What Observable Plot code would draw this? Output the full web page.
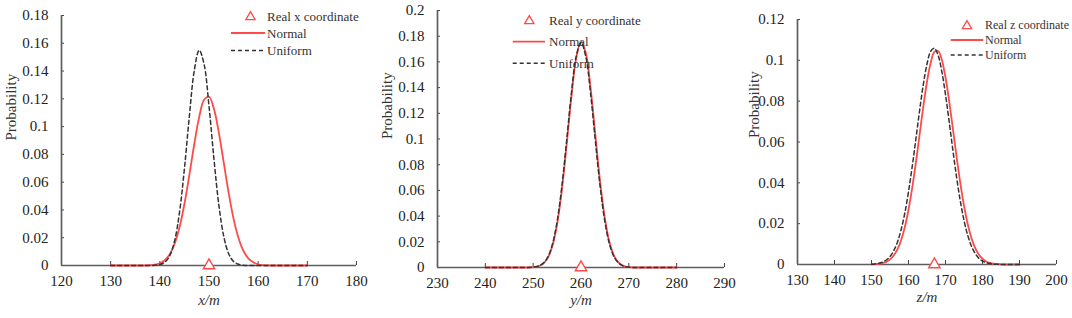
<!DOCTYPE html>
<html>
<head>
<meta charset="utf-8">
<script src="https://cdn.jsdelivr.net/npm/d3@7"></script>
<script src="https://cdn.jsdelivr.net/npm/@observablehq/plot@0.6"></script>
<style>
  body { margin: 0; background: #fff; }
  #wrap { position: relative; width: 1072px; height: 318px; overflow: hidden; background: #fff; }
  #wrap svg { position: absolute; top: 0; overflow: visible; }
</style>
</head>
<body>
<div id="wrap"></div>
<script>
// ---------- Data ----------
// Panel 1: x coordinate
const xPos = [130,131,132,133,134,135,136,137,138,139,140,141,142,143,144,145,146,147,148,149,150,151,152,153,154,155,156,157,158,159,160,161,162,163,164,165,166,167,168,169,170];
const xNormal = [0,0,0,0,0,0,0,0,0.0002,0.0006,0.0016,0.0038,0.0080,0.0155,0.0275,0.0443,0.0651,0.0873,0.1068,0.1193,0.1215,0.1129,0.0957,0.0740,0.0522,0.0336,0.0198,0.0106,0.0052,0.0023,0.0009,0.0003,0.0001,0,0,0,0,0,0,0,0];
const xUniform = [0,0,0,0,0,0,0,0,0,0.0002,0.0007,0.0023,0.0070,0.0177,0.0382,0.0696,0.1073,0.1402,0.1550,0.1449,0.1148,0.0769,0.0437,0.0210,0.0085,0.0029,0.0009,0.0002,0,0,0,0,0,0,0,0,0,0,0,0,0];
const xReal = 150;
const xTicksX = [120,130,140,150,160,170,180];
const xTicksY = [0,0.02,0.04,0.06,0.08,0.1,0.12,0.14,0.16,0.18];

// Panel 2: y coordinate
const yPos = [240,241,242,243,244,245,246,247,248,249,250,251,252,253,254,255,256,257,258,259,260,261,262,263,264,265,266,267,268,269,270,271,272,273,274,275,276,277,278,279,280];
const yNormal = [0,0,0,0,0,0,0,0,0,0,0.0003,0.0009,0.0027,0.0071,0.0165,0.0336,0.0604,0.0954,0.1329,0.1629,0.1759,0.1671,0.1399,0.1030,0.0668,0.0381,0.0191,0.0085,0.0033,0.0011,0.0003,0,0,0,0,0,0,0,0,0,0];
const yUniform = [0,0,0,0,0,0,0,0,0,0,0.0003,0.0010,0.0030,0.0077,0.0177,0.0356,0.0631,0.0987,0.1356,0.1642,0.1750,0.1642,0.1356,0.0987,0.0631,0.0356,0.0177,0.0077,0.0030,0.0010,0.0003,0,0,0,0,0,0,0,0,0,0];
const yReal = 260;
const yTicksX = [230,240,250,260,270,280,290];
const yTicksY = [0,0.02,0.04,0.06,0.08,0.1,0.12,0.14,0.16,0.18,0.2];

// Panel 3: z coordinate
const zPos = [150,151,152,153,154,155,156,157,158,159,160,161,162,163,164,165,166,167,168,169,170,171,172,173,174,175,176,177,178,179,180,181,182,183,184,185,186,187,188,189,190];
const zNormal = [0.0001,0.0002,0.0003,0.0007,0.0013,0.0025,0.0044,0.0074,0.0119,0.0182,0.0268,0.0375,0.0500,0.0637,0.0773,0.0895,0.0988,0.1041,0.1046,0.1003,0.0916,0.0799,0.0664,0.0527,0.0399,0.0288,0.0198,0.0130,0.0081,0.0049,0.0028,0.0015,0.0008,0.0004,0.0002,0.0001,0,0,0,0,0];
const zUniform = [0.0001,0.0003,0.0006,0.0012,0.0022,0.0039,0.0067,0.0109,0.0170,0.0251,0.0356,0.0479,0.0615,0.0754,0.0881,0.0982,0.1044,0.1059,0.1025,0.0946,0.0832,0.0699,0.0559,0.0427,0.0311,0.0216,0.0143,0.0091,0.0055,0.0031,0.0017,0.0009,0.0005,0.0002,0.0001,0,0,0,0,0,0];
const zReal = 167;
const zTicksX = [130,140,150,160,170,180,190,200];
const zTicksY = [0,0.02,0.04,0.06,0.08,0.1,0.12];

const legendReal = ["Real x coordinate", "Real y coordinate", "Real z coordinate"];
const legendSeries = ["Normal", "Uniform"];
const axisLabels = ["x/m", "y/m", "z/m"];
const yLabel = "Probability";

// ---------- Styles ----------
const RED = "#ff4a4a";
const DASH = "#333333";
const AXIS = "#5e5e5e";
const FONT = "'Liberation Serif', 'Times New Roman', serif";

function panel(cfg) {
  const data = cfg.pos.map((x, i) => ({x, normal: cfg.normal[i], uniform: cfg.uniform[i]}));
  const xd = [cfg.xTicks[0], cfg.xTicks[cfg.xTicks.length - 1]];
  const yd = [cfg.yTicks[0], cfg.yTicks[cfg.yTicks.length - 1]];
  const fmt = d => d === 0 ? "0" : d3.format("~g")(d);
  const svg = Plot.plot({
    width: cfg.width,
    height: 318,
    marginLeft: cfg.ml, marginRight: cfg.mr, marginTop: cfg.mt, marginBottom: cfg.mb,
    style: {fontFamily: FONT, fontSize: "15px", color: "#222", background: "transparent", overflow: "visible"},
    x: {domain: xd, label: null, axis: null},
    y: {domain: yd, label: null, axis: null},
    marks: [
      Plot.axisX(cfg.xTicks, {tickSize: 0, tickPadding: 10, tickFormat: d => String(d), label: null, fill: "#222"}),
      Plot.axisX(cfg.xTicks.slice(1), {tickSize: 4, dy: -4, tickFormat: () => "", label: null, stroke: "#444"}),
      Plot.axisY(cfg.yTicks, {tickSize: 0, tickPadding: 13, tickFormat: fmt, label: null, fill: "#222"}),
      Plot.axisY(cfg.yTicks.slice(1), {tickSize: 3, dx: 3, tickFormat: () => "", label: null, stroke: "#444"}),
      Plot.ruleY([yd[0]], {stroke: AXIS, strokeWidth: 1.7}),
      Plot.ruleX([xd[0]], {stroke: AXIS, strokeWidth: 1.7}),
      Plot.line(data, {x: "x", y: "normal", stroke: RED, strokeWidth: 1.8, curve: "catmull-rom"}),
      Plot.line(data, {x: "x", y: "uniform", stroke: DASH, strokeWidth: 1.5, strokeDasharray: "4,3", curve: "catmull-rom"}),
      Plot.dot([{x: cfg.real, y: 0}], {x: "x", y: "y", symbol: "triangle", r: 4.2, stroke: RED, fill: "white", strokeWidth: 1.4}),
      Plot.text([cfg.xLabel], {text: d => d, frameAnchor: "bottom", lineAnchor: "middle", dy: cfg.xLabelDy, fontStyle: "italic", fontSize: 15, fill: "#333"}),
      Plot.text([yLabel], {text: d => d, frameAnchor: "left", lineAnchor: "middle", dx: cfg.yLabelDx, dy: cfg.yLabelDy, rotate: -90, fontSize: 15, fill: "#333"})
    ]
  });
  svg.style.left = cfg.left + "px";
  // legend
  const g = d3.select(svg).append("g")
    .attr("font-family", FONT).attr("font-size", cfg.lf).attr("fill", "#333")
    .attr("text-anchor", "start").style("text-anchor", "start");
  const L = cfg.leg;
  const tri = d3.symbol(d3.symbolTriangle, 38)();
  g.append("path").attr("d", tri).attr("transform", `translate(${L.tx},${L.y0 + 1})`).attr("fill", "white").attr("stroke", RED).attr("stroke-width", 1.3);
  g.append("text").attr("x", L.text).attr("y", L.y0).attr("dy", "0.35em").attr("text-anchor", "start").text(cfg.realLabel);
  g.append("line").attr("x1", L.l1).attr("x2", L.l2).attr("y1", L.y1).attr("y2", L.y1).attr("stroke", RED).attr("stroke-width", 1.8);
  g.append("text").attr("x", L.text).attr("y", L.y1).attr("dy", "0.35em").attr("text-anchor", "start").text(legendSeries[0]);
  g.append("line").attr("x1", L.l1).attr("x2", L.l2).attr("y1", L.y2).attr("y2", L.y2).attr("stroke", DASH).attr("stroke-width", 1.5).attr("stroke-dasharray", "4,3");
  g.append("text").attr("x", L.text).attr("y", L.y2).attr("dy", "0.35em").attr("text-anchor", "start").text(legendSeries[1]);
  document.getElementById("wrap").appendChild(svg);
}

panel({pos: xPos, normal: xNormal, uniform: xUniform, real: xReal, xTicks: xTicksX, yTicks: xTicksY,
  left: 0, width: 360, ml: 61, mr: 4, mt: 15, mb: 53, xLabel: axisLabels[0], xLabelDy: 35, yLabelDx: -50, yLabelDy: 0,
  realLabel: legendReal[0], lf: 13, leg: {tx: 250.5, text: 267, l1: 231, l2: 265, y0: 16, y1: 33, y2: 50.5}});
panel({pos: yPos, normal: yNormal, uniform: yUniform, real: yReal, xTicks: yTicksX, yTicks: yTicksY,
  left: 365, width: 360, ml: 72, mr: 1, mt: 10, mb: 51, xLabel: axisLabels[1], xLabelDy: 33, yLabelDx: -50, yLabelDy: 0,
  realLabel: legendReal[1], lf: 13, leg: {tx: 164.3, text: 184, l1: 147.7, l2: 180, y0: 20, y1: 41.7, y2: 63.3}});
panel({pos: zPos, normal: zNormal, uniform: zUniform, real: zReal, xTicks: zTicksX, yTicks: zTicksY,
  left: 725, width: 347, ml: 72, mr: 16, mt: 19, mb: 54, xLabel: axisLabels[2], xLabelDy: 33, yLabelDx: -43, yLabelDy: -4,
  realLabel: legendReal[2], lf: 12, leg: {tx: 242, text: 260, l1: 225.7, l2: 258.3, y0: 25, y1: 40, y2: 55}});
</script>
</body>
</html>
